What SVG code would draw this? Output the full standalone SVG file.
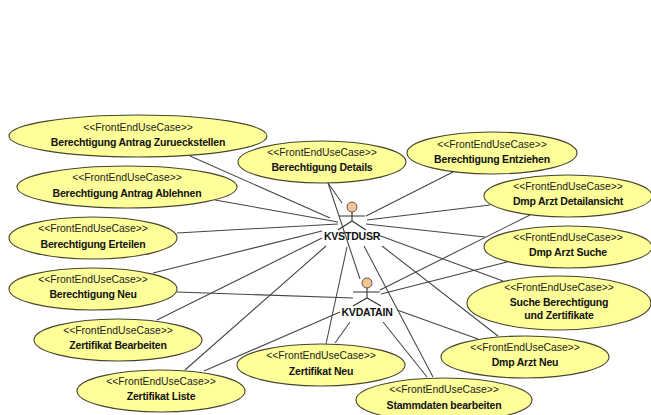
<svg xmlns="http://www.w3.org/2000/svg" width="651" height="415" viewBox="0 0 651 415">
<style>
.uc{fill:#ffff99;stroke:#45452c;stroke-width:1.1}
.c{fill:none;stroke:#444;stroke-width:1.05}
.a{fill:none;stroke:#333;stroke-width:1.1}
.h{fill:#fbc490;stroke:#555;stroke-width:1}
text{font-family:"Liberation Sans",Arial,sans-serif;font-size:10.4px;text-anchor:middle;fill:#222}
.b{font-weight:bold;font-size:10.5px;letter-spacing:-.2px;fill:#111}
</style>
<rect width="651" height="415" fill="#fff"/>
<g id="connectors">
<line class="c" x1="190" y1="156" x2="330" y2="218"/>
<line class="c" x1="215" y1="200" x2="338" y2="222"/>
<line class="c" x1="177" y1="233" x2="338" y2="224"/>
<line class="c" x1="153" y1="273" x2="322" y2="231"/>
<line class="c" x1="157" y1="320" x2="322" y2="238"/>
<line class="c" x1="185" y1="370" x2="326" y2="246"/>
<line class="c" x1="204" y1="371" x2="340" y2="312"/>
<line class="c" x1="177" y1="292" x2="353" y2="298"/>
<line class="c" x1="328" y1="183" x2="342" y2="203"/>
<line class="c" x1="328" y1="183" x2="360" y2="279"/>
<line class="c" x1="453" y1="172" x2="366" y2="216"/>
<line class="c" x1="490" y1="205" x2="367" y2="220"/>
<line class="c" x1="485" y1="237" x2="366" y2="224"/>
<line class="c" x1="530" y1="215" x2="380" y2="290"/>
<line class="c" x1="507" y1="262" x2="381" y2="294"/>
<line class="c" x1="378" y1="235" x2="503" y2="281"/>
<line class="c" x1="382" y1="246" x2="498" y2="336"/>
<line class="c" x1="364" y1="246" x2="433" y2="377"/>
<line class="c" x1="383" y1="322" x2="427" y2="377"/>
<line class="c" x1="397" y1="310" x2="478" y2="339"/>
<line class="c" x1="350" y1="322" x2="335" y2="343"/>
<line class="c" x1="347" y1="247" x2="326" y2="344"/>
</g>
<g id="uc1"><ellipse class="uc" cx="138" cy="136" rx="129" ry="21"/><text x="138" y="131">&lt;&lt;FrontEndUseCase&gt;&gt;</text><text class="b" x="138" y="146">Berechtigung Antrag Zurueckstellen</text></g>
<g id="uc2"><ellipse class="uc" cx="127" cy="187" rx="110" ry="21"/><text x="127" y="181">&lt;&lt;FrontEndUseCase&gt;&gt;</text><text class="b" x="127" y="197">Berechtigung Antrag Ablehnen</text></g>
<g id="uc3"><ellipse class="uc" cx="93" cy="238" rx="84" ry="21"/><text x="93" y="232">&lt;&lt;FrontEndUseCase&gt;&gt;</text><text class="b" x="93" y="248">Berechtigung Erteilen</text></g>
<g id="uc4"><ellipse class="uc" cx="93" cy="289" rx="84" ry="21"/><text x="93" y="283">&lt;&lt;FrontEndUseCase&gt;&gt;</text><text class="b" x="93" y="298">Berechtigung Neu</text></g>
<g id="uc5"><ellipse class="uc" cx="118" cy="340" rx="84" ry="21"/><text x="118" y="334">&lt;&lt;FrontEndUseCase&gt;&gt;</text><text class="b" x="118" y="349">Zertifikat Bearbeiten</text></g>
<g id="uc6"><ellipse class="uc" cx="161" cy="391" rx="84" ry="21"/><text x="161" y="385">&lt;&lt;FrontEndUseCase&gt;&gt;</text><text class="b" x="161" y="400">Zertifikat Liste</text></g>
<g id="uc7"><ellipse class="uc" cx="322" cy="162" rx="84" ry="21"/><text x="322" y="156">&lt;&lt;FrontEndUseCase&gt;&gt;</text><text class="b" x="322" y="171">Berechtigung Details</text></g>
<g id="uc8"><ellipse class="uc" cx="492" cy="153" rx="85" ry="21"/><text x="492" y="148">&lt;&lt;FrontEndUseCase&gt;&gt;</text><text class="b" x="492" y="163">Berechtigung Entziehen</text></g>
<g id="uc9"><ellipse class="uc" cx="568" cy="196" rx="84" ry="21"/><text x="568" y="190">&lt;&lt;FrontEndUseCase&gt;&gt;</text><text class="b" x="568" y="205">Dmp Arzt Detailansicht</text></g>
<g id="uc10"><ellipse class="uc" cx="568" cy="247" rx="84" ry="21"/><text x="568" y="241">&lt;&lt;FrontEndUseCase&gt;&gt;</text><text class="b" x="568" y="256">Dmp Arzt Suche</text></g>
<g id="uc11"><ellipse class="uc" cx="559" cy="303" rx="92" ry="27"/><text x="559" y="291">&lt;&lt;FrontEndUseCase&gt;&gt;</text><text class="b" x="559" y="306">Suche Berechtigung</text><text class="b" x="559" y="319">und Zertifikate</text></g>
<g id="uc12"><ellipse class="uc" cx="525" cy="357" rx="84" ry="21"/><text x="525" y="351">&lt;&lt;FrontEndUseCase&gt;&gt;</text><text class="b" x="525" y="366">Dmp Arzt Neu</text></g>
<g id="uc13"><ellipse class="uc" cx="321" cy="365" rx="84" ry="21"/><text x="321" y="359">&lt;&lt;FrontEndUseCase&gt;&gt;</text><text class="b" x="321" y="375">Zertifikat Neu</text></g>
<g id="uc14"><ellipse class="uc" cx="444" cy="400" rx="88" ry="22"/><text x="444" y="393">&lt;&lt;FrontEndUseCase&gt;&gt;</text><text class="b" x="444" y="409">Stammdaten bearbeiten</text></g>
<g id="KVSTDUSR"><circle class="h" cx="352" cy="207" r="5"/><path class="a" d="M352 212V221M339 216H365M338 230L352 221L366 230"/><text class="b" x="352" y="240">KVSTDUSR</text></g>
<g id="KVDATAIN"><circle class="h" cx="367" cy="283" r="5"/><path class="a" d="M367 288V298M353 292H380M353 306L367 298L381 306"/><text class="b" x="367" y="316">KVDATAIN</text></g>
</svg>
